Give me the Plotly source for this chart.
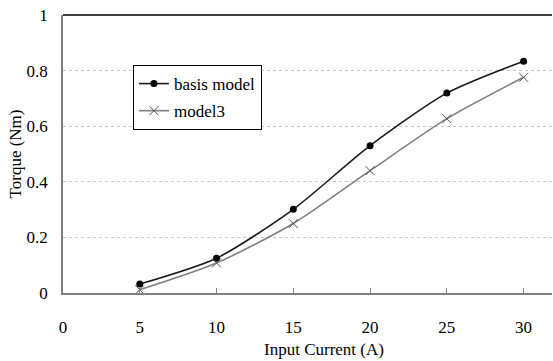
import plotly.graph_objects as go

current = [5, 10, 15, 20, 25, 30]
basis_model = [0.032, 0.125, 0.301, 0.53, 0.719, 0.834]
model3 = [0.012, 0.108, 0.25, 0.44, 0.627, 0.776]

x_ticks = [0, 5, 10, 15, 20, 25, 30]
y_ticks = [0, 0.2, 0.4, 0.6, 0.8, 1]
y_labels = ["0", "0.2", "0.4", "0.6", "0.8", "1"]

font_family = "Liberation Serif, Times New Roman, serif"
fs = 17

fig = go.Figure()
fig.add_trace(go.Scatter(
    x=current, y=basis_model, name="basis model", mode="lines+markers",
    line=dict(color="#1a1a1a", width=1.6, shape="spline", smoothing=0.7),
    marker=dict(symbol="circle", size=7, color="#000000"),
    legendgroup="a",
))
fig.add_trace(go.Scatter(
    x=current, y=model3, name="model3", mode="lines+markers",
    line=dict(color="#808080", width=1.6, shape="spline", smoothing=0.7),
    marker=dict(symbol="x-thin", size=9, line=dict(color="#555555", width=1)),
    legendgroup="b",
))

fig.update_layout(
    width=553, height=361,
    margin=dict(l=63, r=1, t=15, b=68, autoexpand=False),
    paper_bgcolor="white", plot_bgcolor="white",
    font=dict(family=font_family, size=fs, color="#000000"),
    showlegend=True,
    legend=dict(
        x=0.143, y=0.82, xanchor="left", yanchor="top",
        bordercolor="#000000", borderwidth=1, bgcolor="white",
        font=dict(family=font_family, size=fs),
        traceorder="grouped", tracegroupgap=2,
        itemwidth=30,
    ),
    xaxis=dict(
        range=[0, 31.85], tickvals=x_ticks, ticktext=[str(v) for v in x_ticks],
        showgrid=False, zeroline=False, automargin=False,
        showline=True, linecolor="#808080", linewidth=1.5,
        ticks="inside", ticklen=5, tickcolor="#808080",
        ticklabelstandoff=18,
    ),
    yaxis=dict(
        range=[0, 1], tickvals=y_ticks, ticktext=y_labels, automargin=False,
        showgrid=True, gridcolor="#c8c8c8", griddash="dot", gridwidth=1,
        zeroline=False, showline=True, linecolor="#808080", linewidth=1.5,
        ticks="", ticklabelstandoff=10,
        title=dict(text="Torque (Nm)", standoff=1, font=dict(size=fs)),
    ),
    annotations=[dict(
        text="Input Current (A)", xref="paper", yref="paper",
        x=0.534, y=-0.205, xanchor="center", yanchor="middle",
        showarrow=False, font=dict(family=font_family, size=fs),
    )],
    shapes=[dict(
        type="line", xref="paper", yref="paper", x0=0, x1=1, y0=1, y1=1,
        line=dict(color="#000000", width=1.5),
    )],
)

fig.write_html(
    "out.html",
    config={"displayModeBar": False},
    post_script="document.body.style.margin='0';document.body.style.overflow='hidden';",
)
